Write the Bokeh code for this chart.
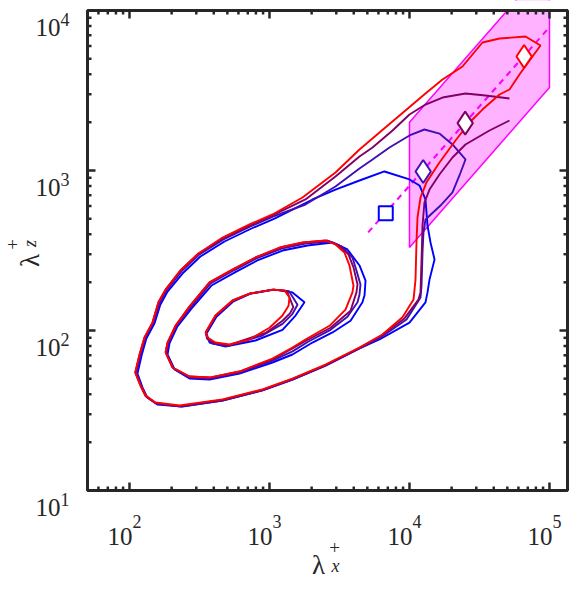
import math
from bokeh.plotting import figure
from bokeh.models import Label, Range1d
from bokeh.embed import file_html
from bokeh.resources import INLINE

# ---------------- data ----------------
box_x = (50.12, 134500)      # axis limits
box_y = (10, 10000)
x_ticks = [100, 1000, 10000, 100000]
y_ticks = [10, 100, 1000, 10000]
x_minor = [60, 70, 80, 90, 200, 300, 400, 500, 600, 700, 800, 900,
           2000, 3000, 4000, 5000, 6000, 7000, 8000, 9000,
           20000, 30000, 40000, 50000, 60000, 70000, 80000, 90000]
y_minor = [20, 30, 40, 50, 60, 70, 80, 90, 200, 300, 400, 500, 600, 700, 800, 900,
           2000, 3000, 4000, 5000, 6000, 7000, 8000, 9000]
x_exps = ["2", "3", "4", "5"]
y_exps = ["1", "2", "3", "4"]

# red series
red_in_x = [349, 411, 544, 720, 1050, 1280, 1390, 1368, 1239, 1000, 720, 518, 411, 361]
red_in_y = [97.2, 124, 154, 170, 180, 178, 161, 143, 124, 104, 87.9, 81.7, 84.1, 90.4]
red_mid_x = [181, 187, 213, 268, 373, 544, 794, 1179, 1721, 2512, 2961, 3433, 3727, 3981,
             3914, 3490, 2683, 1807, 1460, 1050, 611, 373, 268, 203]
red_mid_y = [72.9, 84.1, 107, 141, 200, 240, 286, 330, 355, 365, 345, 307, 255, 191,
             173, 135, 107, 87.9, 78.3, 66.8, 55.4, 50.8, 51.6, 58.7]
red_out_x = [110, 118, 128, 146, 161, 181, 231, 311, 462, 720, 1050, 1721, 2961, 4395, 6105,
             9354, 13010, 17210, 23910, 33210, 43950, 67420, 86300, 66270, 61050, 51790,
             43950, 33210, 26850, 21320, 16370, 13210, 11990, 11410, 11220, 11040, 10690,
             8913, 6412, 4395, 2512, 1460, 891, 462, 228, 153, 130, 120]
red_out_y = [54.6, 70.8, 90.4, 112, 150, 180, 237, 303, 381, 460, 531, 678, 972, 1352, 1728,
             2371, 3029, 3706, 4467, 6310, 6683, 6879, 6043, 4406, 3981, 3209, 2985, 2404,
             1995, 1540, 1122, 841, 678, 509, 355, 208, 156, 121, 94.4, 78.3, 61.3, 50.1,
             42.8, 37.1, 34, 35.5, 39.3, 45.3]

# maroon series
mar_in_x = [350, 412, 546, 722, 1058, 1330, 1480, 1400, 1239, 950, 510, 400, 360]
mar_in_y = [97, 124, 154, 170, 180, 177, 140, 128, 115, 97, 81, 84, 90]
mar_mid_x = [181, 187, 213, 268, 373, 544, 794, 1199, 1750, 2594, 3111, 3664, 3981, 4254,
             4180, 3793, 2729, 1837, 1460, 1050, 611, 373, 268, 203]
mar_mid_y = [72.9, 84.1, 107, 141, 200, 240, 286, 330, 355, 365, 340, 299, 248, 194,
             173, 133, 104, 86.6, 77.2, 65.9, 55.4, 50.8, 51.6, 58.7]
mar_out_x = [51790, 37280, 25120, 20280, 16370, 13900, 12790, 12390, 12190, 11990, 11590,
             9204, 6310, 4395, 2512, 1460, 891, 462, 228, 153, 130, 120, 110, 118, 128, 146,
             161, 181, 231, 311, 462, 720, 1050, 1807, 2961, 4395, 5445, 7568, 10000, 13010,
             17210, 25120, 34910, 51790]
mar_out_y = [2054, 1778, 1454, 1205, 944, 760, 631, 453, 278, 173, 156, 119, 93, 77.8, 60.8,
             49.8, 42.5, 36.8, 33.7, 35.2, 39, 45, 54.6, 70.8, 90.4, 112, 150, 180, 237, 303,
             376, 453, 524, 659, 917, 1223, 1393, 1778, 2239, 2585, 2858, 3029, 2944, 2818]

# indigo series
ind_in_x = [352, 414, 548, 725, 1065, 1380, 1585, 1450, 1239, 890, 500, 390, 358]
ind_in_y = [96, 123, 153, 170, 180, 176, 145, 126, 110, 93, 80, 83, 89]
ind_mid_x = [184, 190, 217, 273, 379, 553, 807, 1219, 1807, 2683, 3266, 3914, 4180, 4467,
             4395, 4254, 3606, 2729, 1901, 1460, 1050, 611, 373, 268, 206]
ind_mid_y = [71.8, 84.1, 107, 139, 197, 237, 282, 325, 350, 360, 335, 286, 237, 194,
             168, 150, 122, 101, 85.4, 74, 64.9, 54.6, 50.1, 50.8, 57.9]
ind_out_x = [112, 120, 130, 148, 164, 184, 235, 316, 469, 731, 1069, 1807, 2961, 4395, 5445,
             7197, 10000, 12790, 16370, 20280, 25120, 22750, 20280, 16650, 13010, 12590,
             12390, 12190, 11990, 9526, 6209, 4395, 2512, 1460, 891, 462, 231, 156, 132, 122]
ind_out_y = [54.6, 70.8, 90.4, 112, 148, 178, 234, 299, 371, 447, 516, 613, 794, 1029, 1172,
             1393, 1656, 1804, 1702, 1454, 1172, 931, 729, 604, 494, 410, 307, 191, 161, 117,
             90.4, 77.2, 60.4, 49.4, 42.2, 36.5, 33.5, 35, 38.7, 44.7]

# blue series
blue_in_x = [355, 418, 553, 731, 1086, 1460, 1778, 1535, 1239, 794, 485, 373]
blue_in_y = [95.8, 122, 152, 170, 180, 173, 150, 124, 101, 86.6, 79.4, 84.1]
blue_mid_x = [187, 193, 220, 277, 385, 562, 820, 1239, 1868, 2818, 3606, 4395, 4853, 4775,
              4613, 3793, 2818, 2028, 1460, 1050, 611, 373, 268, 210]
blue_mid_y = [70.8, 83, 106, 137, 191, 230, 274, 316, 340, 355, 321, 255, 205, 166,
              150, 115, 97.2, 84.1, 70.8, 63.1, 53.8, 49.4, 50.1, 57.1]
blue_out_x = [114, 122, 132, 151, 166, 187, 239, 321, 477, 744, 1086, 1460, 2028, 2961, 4395,
              6622, 10000, 11790, 13010, 13450, 14130, 15100, 13900, 13450, 13010, 10000,
              6105, 4395, 2512, 1460, 891, 462, 239, 158, 134, 124]
blue_out_y = [53.8, 69.8, 89.1, 111, 145, 175, 227, 290, 360, 434, 501, 570, 659, 760, 866,
              986, 879, 806, 659, 453, 355, 278, 208, 173, 150, 112, 87.9, 77.2, 60.4, 49.4,
              42.2, 36.5, 33.5, 34.5, 38.1, 44]

# markers (peak locations)
sq_x = [6770]
sq_y = [541]
dia_x = [12530, 25000, 65900]
dia_y = [985, 1978, 5160]

# shaded region and dashed ridge line
reg_x = [10000, 10000, 100000, 100000]
reg_y = [330, 2000, 20000, 3300]
ridge_x = [5070, 97000]
ridge_y = [410, 7640]

# ---------------- layout / styling ----------------
BLUE = "#0000ff"
INDIGO = "#4010b4"
MAROON = "#800064"
RED = "#ff0000"
MAG = "#ff00ff"
AX = "#262626"
FONT = "Liberation Serif"

W, H = 570, 578            # canvas
ML, MR, MT, MB = 87, 3, 10, 88   # margins around the axes box (px)
lx0, lx1 = math.log10(box_x[0]), math.log10(box_x[1])
ly0, ly1 = math.log10(box_y[0]), math.log10(box_y[1])
ppx = (W - ML - MR) / (lx1 - lx0)
ppy = (H - MT - MB) / (ly1 - ly0)
xr = Range1d(10 ** (lx0 - ML / ppx), 10 ** (lx1 + MR / ppx))
yr = Range1d(10 ** (ly0 - MB / ppy), 10 ** (ly1 + MT / ppy))

p = figure(x_axis_type="log", y_axis_type="log", x_range=xr, y_range=yr,
           width=W, height=H, min_border=0,
           x_axis_location=None, y_axis_location=None,
           output_backend="svg", toolbar_location=None)
p.grid.visible = False
p.outline_line_color = None
p.background_fill_color = "white"
p.border_fill_color = "white"

# shaded region
p.patch(reg_x, reg_y, fill_color=MAG, fill_alpha=0.3, line_color=MAG, line_width=1.5)
# ridge
p.line(ridge_x, ridge_y, line_color=MAG, line_width=2, line_dash="6 5")


def closed(a):
    return list(a) + [a[0]]


LW = 1.9
series = [
    (BLUE, blue_in_x, blue_in_y, blue_mid_x, blue_mid_y, blue_out_x, blue_out_y, True),
    (INDIGO, ind_in_x, ind_in_y, ind_mid_x, ind_mid_y, ind_out_x, ind_out_y, True),
    (MAROON, mar_in_x, mar_in_y, mar_mid_x, mar_mid_y, mar_out_x, mar_out_y, False),
    (RED, red_in_x, red_in_y, red_mid_x, red_mid_y, red_out_x, red_out_y, True),
]
for col, ix, iy, mx, my, ox, oy, out_closed in series:
    p.line(closed(ix), closed(iy), line_color=col, line_width=LW)
    p.line(closed(mx), closed(my), line_color=col, line_width=LW)
    if out_closed:
        p.line(closed(ox), closed(oy), line_color=col, line_width=LW)
    else:
        p.line(ox, oy, line_color=col, line_width=LW)

# markers
p.scatter(sq_x, sq_y, marker="square", size=14, fill_color="white", line_color=BLUE, line_width=2)
p.scatter(dia_x, dia_y, marker="diamond", size=23, fill_color="white",
          line_color=[INDIGO, MAROON, RED], line_width=2)

# clip anything above the axes box
p.quad(left=[box_x[0]], right=[box_x[1]], bottom=[box_y[1]], top=[yr.end],
       fill_color="white", line_color=None)


# ticks (inside, on all four sides)
def ticks(xs, ys, ang, length):
    p.ray(x=xs, y=ys, length=length, length_units="screen", angle=ang,
          line_color=AX, line_width=2.5, line_cap="butt")


for vals, L in ((x_ticks, 8), (x_minor, 4)):
    ticks(vals, [box_y[0]] * len(vals), math.pi / 2, L)
    ticks(vals, [box_y[1]] * len(vals), -math.pi / 2, L)
for vals, L in ((y_ticks, 8), (y_minor, 4)):
    ticks([box_x[0]] * len(vals), vals, 0, L)
    ticks([box_x[1]] * len(vals), vals, math.pi, L)

# axes box
p.quad(left=[box_x[0]], right=[box_x[1]], bottom=[box_y[0]], top=[box_y[1]],
       fill_color=None, line_color=AX, line_width=3)


def lab(x, y, dx, dy, text, size, align="center", base="alphabetic", angle=0.0, italic=False):
    p.add_layout(Label(x=x, y=y, x_offset=dx, y_offset=dy, text=text, angle=angle,
                       text_align=align, text_baseline=base, text_font=FONT,
                       text_font_style="italic" if italic else "normal",
                       text_font_size=size, text_color=AX))


# tick labels (10 with superscript exponent)
for v, e in zip(x_ticks, x_exps):
    lab(v, box_y[0], 3, -46, "10", "25px", align="right")
    lab(v, box_y[0], 3, -31, e, "18px", align="left")
for v, e in zip(y_ticks, y_exps):
    lab(box_x[0], v, -27, -17, "10", "25px", align="right")
    lab(box_x[0], v, -27, -9, e, "18px", align="left")

# axis titles
lab(box_x[0], box_y[0], 231, -74, "λ", "27px")
lab(box_x[0], box_y[0], 247, -57, "+", "19px", base="middle")
lab(box_x[0], box_y[0], 248, -75, "x", "18px", base="middle", italic=True)

rot = math.pi / 2
lab(box_x[0], box_y[0], -58, 230, "λ", "27px", angle=rot)
lab(box_x[0], box_y[0], -75, 246, "+", "19px", base="middle", angle=rot)
lab(box_x[0], box_y[0], -58, 247, "z", "18px", base="middle", angle=rot, italic=True)

open("out.html", "w").write(file_html(p, INLINE))
